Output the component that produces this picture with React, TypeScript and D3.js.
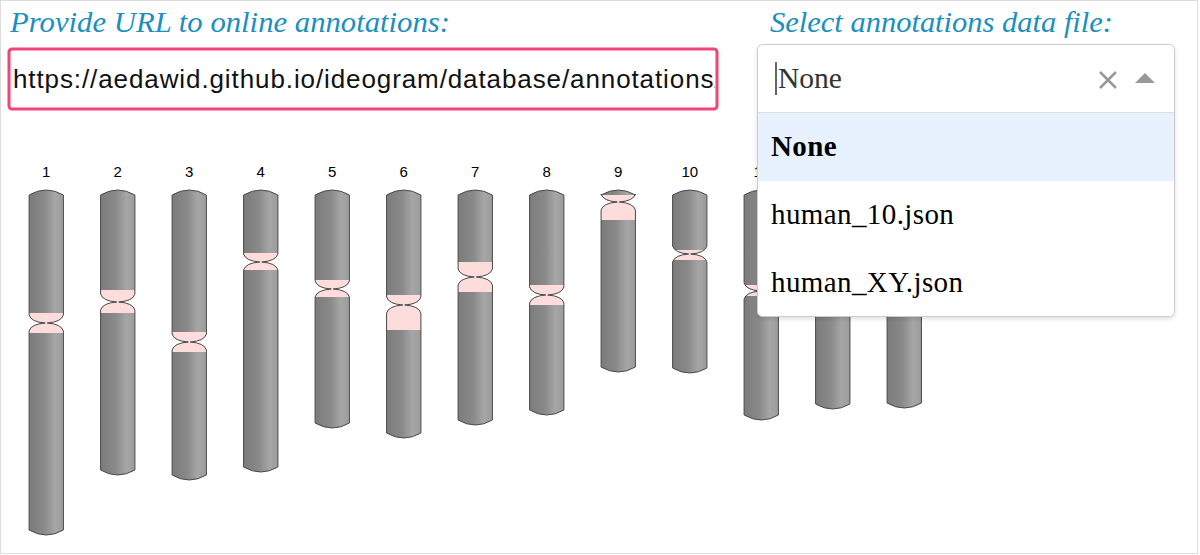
import React from "react";
import * as d3 from "d3";

const chromNames = ["1","2","3","4","5","6","7","8","9","10","11","12","13"];
const chromLength = [345,285,290,282,238,248,235,225,182,183,230,219,218];
const cenPos = [133,112,152,72,99,115,87,105,12,64,101,90,10];
const pinkStart = [123,100,142,63,90,105,72,95,5,60,95,82,5];
const pinkEnd = [143,123,162,80,107,140,102,115,30,70,106,98,20];
const options = ["None","human_10.json","human_XY.json"];
const urlText = "https://aedawid.github.io/ideogram/database/annotations/human_10.json";

const x = d3.scaleBand<string>().domain(chromNames).range([10.5, 940]).paddingInner(0.52).paddingOuter(0.26);
const y = d3.scaleLinear().domain([0, 345]).range([190, 535]);

function outline(x0: number, x1: number, len: number, cen: number) {
  const cx = (x0 + x1) / 2;
  const top = y(0), bot = y(len), c = y(cen);
  const h = 8;
  const p = d3.path();
  const hasP = cen > 4;
  p.moveTo(x0, top + 5);
  p.quadraticCurveTo(cx, top - 5, x1, top + 5);
  if (hasP) {
    p.lineTo(x1, c - h);
    p.quadraticCurveTo(x1 - 2, c - 1, cx + 1, c);
    p.quadraticCurveTo(x1 - 2, c + 1, x1, c + h);
  }
  p.lineTo(x1, bot - 5);
  p.quadraticCurveTo(cx, bot + 5, x0, bot - 5);
  if (hasP) {
    p.lineTo(x0, c + h);
    p.quadraticCurveTo(x0 + 2, c + 1, cx - 1, c);
    p.quadraticCurveTo(x0 + 2, c - 1, x0, c - h);
  }
  p.closePath();
  return p.toString();
}

const serif = "'Liberation Serif', serif";
const sans = "'Liberation Sans', Arial, sans-serif";

export default function App() {
  const bw = x.bandwidth();
  return (
    <div style={{ position: "absolute", left: 0, top: 0 }}>
      <svg width={1200} height={555} style={{ display: "block" }}>
        <defs>
          <linearGradient id="cg" x1="0" x2="1" y1="0" y2="0">
            <stop offset="0" stopColor="#7b7b7b" />
            <stop offset="0.45" stopColor="#8a8a8a" />
            <stop offset="0.75" stopColor="#a6a6a6" />
            <stop offset="1" stopColor="#9c9c9c" />
          </linearGradient>
          {chromNames.map((n, i) => (
            <clipPath id={"cl" + i} key={n}>
              <path d={outline(x(n)!, x(n)! + bw, chromLength[i], cenPos[i])} />
            </clipPath>
          ))}
          <clipPath id="urlclip"><rect x={11} y={50} width={704} height={57} /></clipPath>
          <filter id="sh" x="-5%" y="-5%" width="110%" height="115%">
            <feDropShadow dx="0" dy="2" stdDeviation="2" floodColor="#000" floodOpacity="0.12" />
          </filter>
        </defs>
        <rect x={0.5} y={0.5} width={1197} height={553} fill="#fff" stroke="#ddd" />
        <text x={10} y={32} fontFamily={serif} fontStyle="italic" fontSize={29} textLength={440} lengthAdjust="spacingAndGlyphs" fill="#1b8fbf">Provide URL to online annotations:</text>
        <text x={770} y={32} fontFamily={serif} fontStyle="italic" fontSize={29} textLength={343} lengthAdjust="spacingAndGlyphs" fill="#1b8fbf">Select annotations data file:</text>
        <rect x={9} y={49} width={708} height={60} rx={3} fill="#fff" stroke="#f0457a" strokeWidth={3} />
        <text x={13} y={88} clipPath="url(#urlclip)" fontFamily={sans} fontSize={26} letterSpacing={0.9} fill="#111">{urlText}</text>
        {chromNames.map((n, i) => {
          const x0 = x(n)!;
          const d = outline(x0, x0 + bw, chromLength[i], cenPos[i]);
          return (
            <g key={n}>
              <text x={x0 + bw / 2} y={177} textAnchor="middle" fontFamily={sans} fontSize={15} fill="#000">{n}</text>
              <path d={d} fill="url(#cg)" />
              <rect clipPath={`url(#cl${i})`} x={x0 - 2} y={y(pinkStart[i])} width={bw + 4} height={y(pinkEnd[i]) - y(pinkStart[i])} fill="#fddcdc" />
              <path d={d} fill="none" stroke="#4a4a4a" strokeWidth={1} />
            </g>
          );
        })}
        <g filter="url(#sh)">
          <rect x={757.5} y={44.5} width={417} height={272} rx={5} fill="#fff" stroke="#ccc" />
        </g>
        <rect x={758} y={113} width={416} height={68} fill="#e8f2fe" />
        <line x1={758} x2={1174} y1={112.5} y2={112.5} stroke="#ddd" />
        <line x1={776} x2={776} y1={62} y2={95} stroke="#333" strokeWidth={1.5} />
        <text x={778} y={88} fontFamily={serif} fontSize={29} textLength={64} lengthAdjust="spacingAndGlyphs" fill="#333">None</text>
        <path d="M1100,72 L1116,88 M1116,72 L1100,88" stroke="#999" strokeWidth={2.5} />
        <path d="M1135,83 L1145,73 L1155,83 Z" fill="#999" />
        {options.map((o, i) => (
          <text key={o} x={771} y={156 + i * 68} fontFamily={serif} fontSize={29} letterSpacing={0.4} fontWeight={i === 0 ? "bold" : "normal"} fill="#000">{o}</text>
        ))}
      </svg>
    </div>
  );
}
